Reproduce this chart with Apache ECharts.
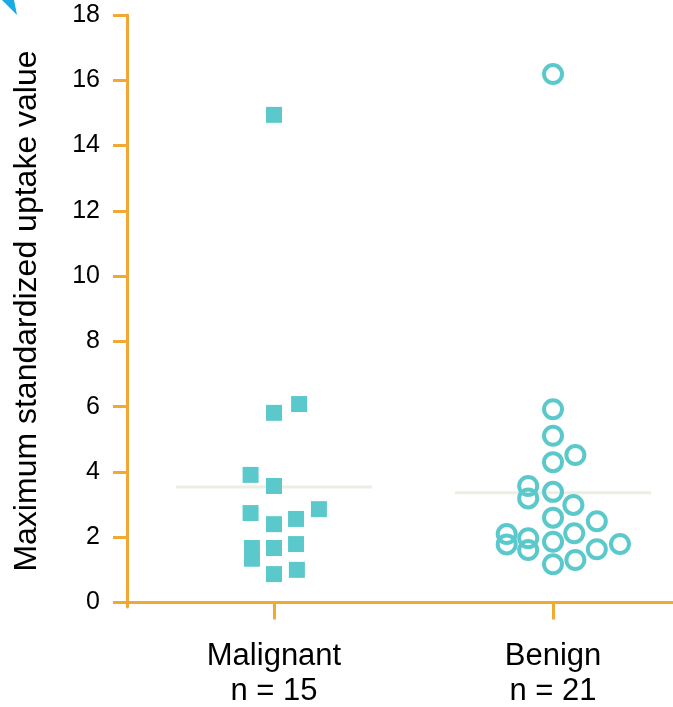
<!DOCTYPE html>
<html>
<head>
<meta charset="utf-8">
<script src="https://cdn.jsdelivr.net/npm/echarts@6/dist/echarts.min.js"></script>
<style>
  html, body { margin: 0; padding: 0; background: #ffffff; }
  #chart { width: 673px; height: 707px; }
</style>
</head>
<body>
<div id="chart"></div>
<script>
// ---- data ----
const categories = ['Malignant', 'Benign'];
const sampleSizes = [15, 21];
const yTickValues = [0, 2, 4, 6, 8, 10, 12, 14, 16, 18];
const yAxisTitle = 'Maximum standardized uptake value';

const malignantValues = [5.81, 6.08, 3.91, 3.57, 2.74, 2.86, 2.40, 2.56, 1.67, 1.34, 1.67, 1.79, 0.87, 1.00, 14.94];
const malignantJitter = [0, 0.09, -0.084, 0, -0.084, 0.161, 0, 0.079, -0.079, -0.079, 0, 0.079, 0, 0.082, 0];

const benignValues = [5.92, 5.11, 4.30, 4.52, 3.57, 3.19, 3.39, 2.99, 2.60, 2.49, 2.10, 1.78, 1.97, 1.61, 1.86, 2.12, 1.63, 1.79, 1.17, 1.30, 16.19];
const benignJitter = [0, 0, 0, 0.08, -0.089, -0.089, 0, 0.073, 0, 0.157, -0.166, -0.166, -0.089, -0.089, 0, 0.076, 0.157, 0.24, 0, 0.08, 0];

const groupMeans = [3.54, 3.36];

// ---- style ----
const ORANGE = '#F2A934';
const TEAL = '#5BC9CC';
const MEAN_COLOR = '#EDEEE3';
const FONT = '"Liberation Sans", Arial, sans-serif';
const meanHalfWidth = 0.352;

const malignantData = malignantValues.map((v, i) => [1 + malignantJitter[i], v]);
const benignData = benignValues.map((v, i) => [2 + benignJitter[i], v]);

const chart = echarts.init(document.getElementById('chart'), null, { renderer: 'canvas' });

chart.setOption({
  animation: false,
  backgroundColor: '#ffffff',
  grid: { left: 116, right: 0, top: 15, bottom: 100, containLabel: false, outerBoundsMode: 'none' },
  xAxis: {
    type: 'value',
    min: 0.4337,
    max: 2.43,
    offset: -4.5,
    axisLine: { show: true, onZero: false, lineStyle: { color: ORANGE, width: 3 } },
    splitLine: { show: false },
    axisTick: { show: true, customValues: [1, 2], length: 17, lineStyle: { color: ORANGE, width: 3 } },
    axisLabel: {
      customValues: [1, 2],
      formatter: function (v) {
        const i = Math.round(v) - 1;
        return categories[i] + '\nn = ' + sampleSizes[i];
      },
      color: '#000000',
      fontSize: 31,
      lineHeight: 35,
      fontFamily: FONT,
      margin: 36
    }
  },
  yAxis: {
    type: 'value',
    min: -0.138,
    max: 18,
    offset: -11,
    name: yAxisTitle,
    nameLocation: 'middle',
    nameGap: 84,
    nameTextStyle: { color: '#000000', fontSize: 32, fontFamily: FONT },
    axisLine: { show: true, onZero: false, lineStyle: { color: ORANGE, width: 3 } },
    splitLine: { show: false },
    axisTick: { show: true, customValues: yTickValues, length: 14, lineStyle: { color: ORANGE, width: 3 } },
    axisLabel: {
      customValues: yTickValues,
      color: '#000000',
      fontSize: 25,
      fontFamily: FONT,
      margin: 27
    }
  },
  graphic: [
    {
      type: 'polygon',
      shape: { points: [[2, 0], [14, 0], [17, 15]] },
      style: { fill: '#1AABE6' },
      silent: true
    }
  ],
  series: [
    {
      type: 'line',
      data: [[1 - meanHalfWidth, groupMeans[0]], [1 + meanHalfWidth, groupMeans[0]]],
      symbol: 'none',
      lineStyle: { color: MEAN_COLOR, width: 3 },
      z: 1,
      silent: true
    },
    {
      type: 'line',
      data: [[2 - meanHalfWidth, groupMeans[1]], [2 + meanHalfWidth, groupMeans[1]]],
      symbol: 'none',
      lineStyle: { color: MEAN_COLOR, width: 3 },
      z: 1,
      silent: true
    },
    {
      type: 'scatter',
      data: malignantData,
      symbol: 'rect',
      symbolSize: 16,
      itemStyle: { color: TEAL, opacity: 1 },
      z: 3
    },
    {
      type: 'scatter',
      data: benignData,
      symbol: 'circle',
      symbolSize: 18,
      itemStyle: { color: 'rgba(255,255,255,0)', borderColor: TEAL, borderWidth: 4, opacity: 1 },
      z: 3
    }
  ]
});
</script>
</body>
</html>
